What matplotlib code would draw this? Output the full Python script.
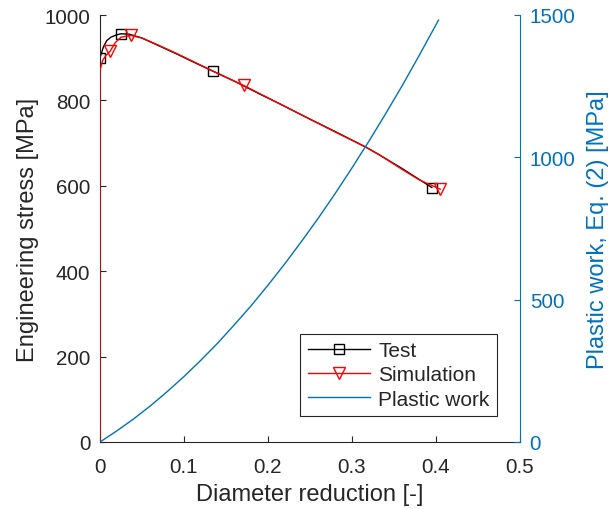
import matplotlib
matplotlib.use("Agg")
import matplotlib.pyplot as plt

# ---- data ----
test_x = [0, 0.0, 0.004, 0.008, 0.013, 0.019, 0.025, 0.035, 0.05, 0.07, 0.09, 0.11,
          0.135, 0.16, 0.19, 0.214, 0.25, 0.28, 0.317, 0.333, 0.36, 0.395]
test_y = [0, 900, 925, 940, 948, 953, 956, 955, 946, 928, 910, 891,
          868, 845, 815, 792, 756, 727, 690, 672, 640, 596]
test_marks = [1, 6, 12, 21]

sim_x = [0, 0.0, 0.003, 0.007, 0.012, 0.018, 0.025, 0.037, 0.05, 0.07, 0.09, 0.11,
         0.135, 0.171, 0.214, 0.25, 0.28, 0.317, 0.333, 0.36, 0.38, 0.405]
sim_y = [0, 870, 893, 905, 915, 935, 948, 952, 946, 929, 911, 892,
         868, 835, 792, 756, 726, 690, 672, 638, 614, 592]
sim_marks = [4, 7, 13, 21]

work_x = [0, 0.02, 0.04, 0.06, 0.08, 0.10, 0.12, 0.14, 0.16, 0.18, 0.20, 0.22,
          0.24, 0.26, 0.28, 0.30, 0.32, 0.34, 0.36, 0.38, 0.403]
work_y = [0, 39, 81, 127, 177, 230, 287, 347, 412, 479, 551, 626,
          705, 787, 873, 963, 1056, 1153, 1253, 1358, 1482]

x_ticks = [0, 0.1, 0.2, 0.3, 0.4, 0.5]
x_ticklabels = ["0", "0.1", "0.2", "0.3", "0.4", "0.5"]
y_ticks = [0, 200, 400, 600, 800, 1000]
y2_ticks = [0, 500, 1000, 1500]

# ---- style ----
plt.rcParams['font.family'] = ['Liberation Sans', 'DejaVu Sans']
DARK = '#262626'
BLUE = '#0072BD'
TICK_FS = 14.8
LABEL_FS = 17
LEG_FS = 15

fig = plt.figure(figsize=(6.1, 5.1), dpi=100)
ax = fig.add_axes([100/610, 67/510, 420/610, 427/510])
ax2 = ax.twinx()

l1, = ax.plot(test_x, test_y, color='black', lw=1.0, marker='s', markersize=7,
              markerfacecolor='none', markeredgecolor='black', markeredgewidth=1.0,
              markevery=test_marks, label='Test', zorder=2)
l2, = ax.plot(sim_x, sim_y, color='red', lw=1.0, marker='v', markersize=9,
              markerfacecolor='none', markeredgecolor='red', markeredgewidth=1.0,
              markevery=sim_marks, label='Simulation', zorder=3)
l3, = ax2.plot(work_x, work_y, color=BLUE, lw=1.0, label='Plastic work')

ax.set_xlim(0, 0.5)
ax.set_ylim(0, 1000)
ax2.set_ylim(0, 1500)

ax.set_xticks(x_ticks)
ax.set_xticklabels(x_ticklabels)
ax.set_yticks(y_ticks)
ax2.set_yticks(y2_ticks)

for a in (ax, ax2):
    a.spines['top'].set_visible(False)
ax2.spines['left'].set_visible(False)
ax2.spines['bottom'].set_visible(False)
ax.spines['right'].set_visible(False)
for s in ('left', 'bottom'):
    ax.spines[s].set_color(DARK)
    ax.spines[s].set_linewidth(0.8)
ax2.spines['right'].set_color(BLUE)
ax2.spines['right'].set_linewidth(0.8)

ax.tick_params(axis='both', direction='in', length=4, width=0.8, colors=DARK,
               labelsize=TICK_FS, top=False, right=False)
ax.tick_params(axis='x', pad=11)
ax.tick_params(axis='y', pad=7)
ax2.tick_params(axis='y', direction='in', length=4, width=0.8, colors=BLUE,
                labelsize=TICK_FS, pad=7)

ax.set_xlabel('Diameter reduction [-]', fontsize=LABEL_FS, color=DARK, labelpad=5)
ax.set_ylabel('Engineering stress [MPa]', fontsize=LABEL_FS, color=DARK, labelpad=4)
ax2.set_ylabel('Plastic work, Eq. (2) [MPa]', fontsize=LABEL_FS, color=BLUE, labelpad=8)

leg = ax2.legend(handles=[l1, l2, l3], loc='lower right',
                 bbox_to_anchor=(397/420, 26/427), borderaxespad=0,
                 fontsize=LEG_FS, numpoints=1, handlelength=3.0, handletextpad=0.4,
                 labelspacing=0.25, borderpad=0.35, fancybox=False, framealpha=1,
                 edgecolor=DARK)
leg.get_frame().set_linewidth(0.8)
for t in leg.get_texts():
    t.set_color(DARK)

fig.savefig('out.png', dpi=100)
